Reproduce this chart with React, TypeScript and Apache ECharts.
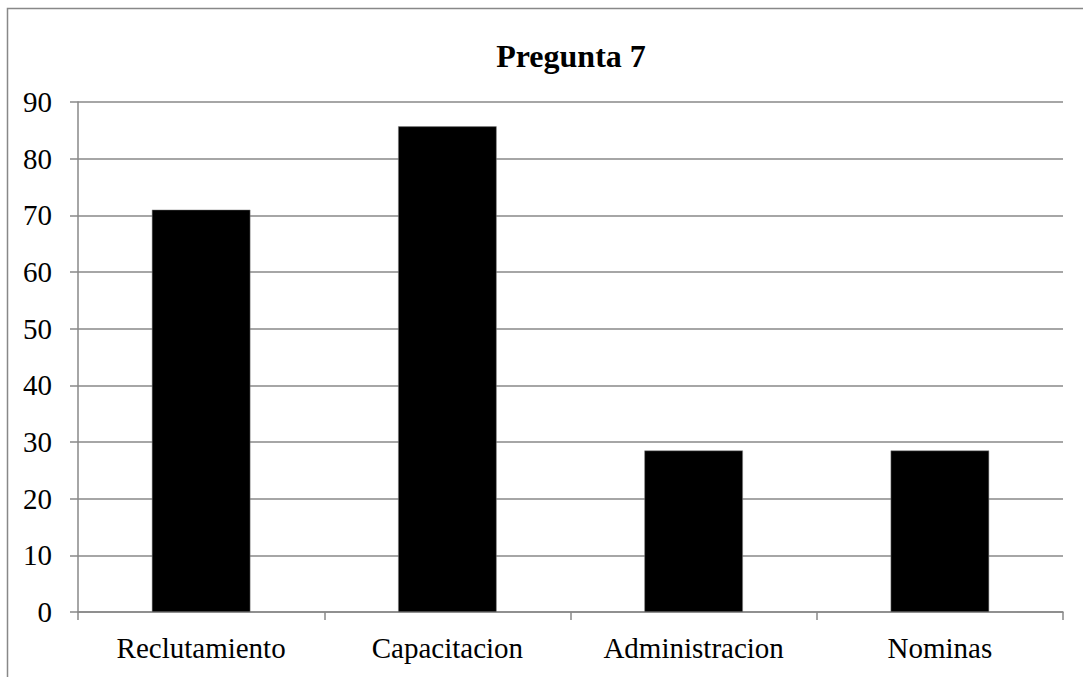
import React, { useEffect, useRef } from "react";
import * as echarts from "echarts";

const categories = ["Reclutamiento", "Capacitacion", "Administracion", "Nominas"];
const values = [71, 85.7, 28.5, 28.5];
const title = "Pregunta 7";

export default function App() {
  const ref = useRef<HTMLDivElement>(null);
  useEffect(() => {
    if (!ref.current) return;
    const chart = echarts.init(ref.current, undefined, { renderer: "svg" });
    const font = "'Liberation Serif', 'Times New Roman', serif";
    chart.setOption({
      animation: false,
      backgroundColor: "#ffffff",
      title: {
        text: title,
        left: 566,
        textAlign: "center",
        top: 35,
        textStyle: { fontFamily: font, fontSize: 32, fontWeight: "bold", color: "#000" },
      },
      graphic: [
        {
          type: "rect",
          shape: { x: 7.5, y: 8.5, width: 1200, height: 800 },
          style: { fill: "none", stroke: "#888", lineWidth: 1.5 },
          silent: true,
        },
      ],
      grid: { left: 78, right: 20, top: 102, bottom: 65, containLabel: false },
      xAxis: {
        type: "category",
        data: categories,
        axisLine: { show: true, lineStyle: { color: "#888", width: 1.5 } },
        axisTick: { show: true, length: 8, inside: false, lineStyle: { color: "#888", width: 1.5 }, alignWithLabel: false },
        axisLabel: { fontFamily: font, fontSize: 29, color: "#000", margin: 21 },
      },
      yAxis: {
        type: "value",
        min: 0,
        max: 90,
        interval: 10,
        axisLine: { show: true, lineStyle: { color: "#888", width: 1.5 } },
        axisTick: { show: true, length: 8, lineStyle: { color: "#888", width: 1.5 } },
        splitLine: { show: true, lineStyle: { color: "#888", width: 1.5 } },
        axisLabel: { fontFamily: font, fontSize: 29, color: "#000", margin: 26 },
      },
      series: [
        {
          type: "bar",
          data: values,
          barWidth: "40%",
          itemStyle: { color: "#000", borderColor: "#888", borderWidth: 0.5 },
        },
      ],
    });
    return () => chart.dispose();
  }, []);
  return (
    <div
      ref={ref}
      style={{ position: "fixed", left: 0, top: 0, width: 1083, height: 677 }}
    />
  );
}
